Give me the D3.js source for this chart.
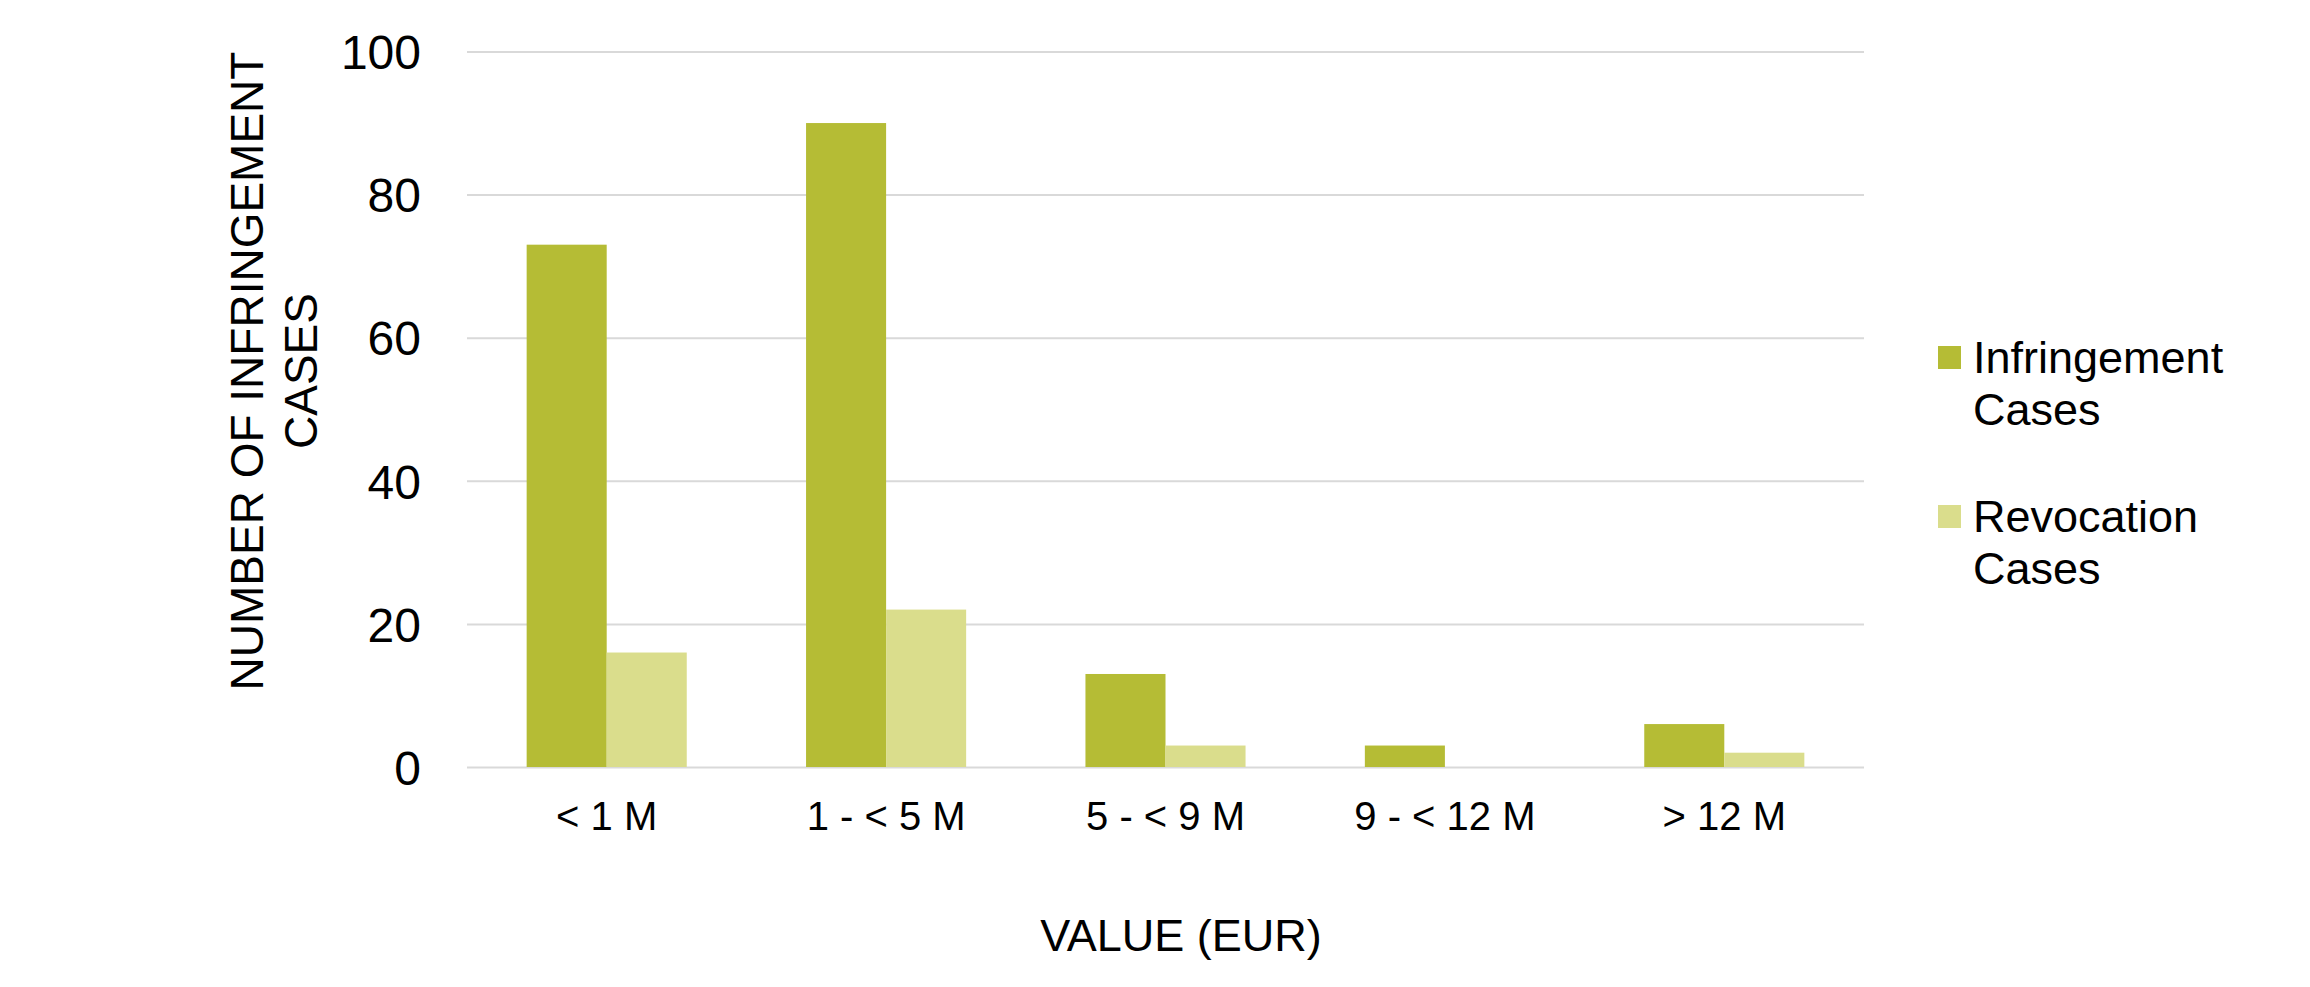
<!DOCTYPE html>
<html>
<head>
<meta charset="utf-8">
<script src="https://cdn.jsdelivr.net/npm/d3@7"></script>
<style>
  html, body { margin: 0; padding: 0; background: #fff; }
  svg { display: block; font-family: "Liberation Sans", Arial, sans-serif; }
</style>
</head>
<body>
<svg id="chart" width="2310" height="987"></svg>
<script>
const categories = ["< 1 M", "1 - < 5 M", "5 - < 9 M", "9 - < 12 M", "> 12 M"];
const seriesNames = ["Infringement Cases", "Revocation Cases"];
const legendLines = [["Infringement", "Cases"], ["Revocation", "Cases"]];
const infringement = [73, 90, 13, 3, 6];
const revocation = [16, 22, 3, 0, 2];
const yTicks = [0, 20, 40, 60, 80, 100];
const colors = ["#b5bc35", "#dadd8c"];
const yTitleLines = ["NUMBER OF INFRINGEMENT", "CASES"];
const xTitle = "VALUE (EUR)";

(function () {
const seriesValues = [infringement, revocation];
const plotLeft = 467, plotRight = 1864, plotTop = 51.5, plotBottom = 767;

const svg = d3.select("#chart");

const y = d3.scaleLinear().domain([0, 100]).range([plotBottom, plotTop]);
const x0 = d3.scaleBand().domain(categories).range([plotLeft, plotRight])
  .paddingInner(0.427).paddingOuter(0.2135);
const x1 = d3.scaleBand().domain(seriesNames).range([0, x0.bandwidth()]).padding(0);

// Y axis with gridlines
const yAxis = svg.append("g")
  .attr("transform", `translate(${plotLeft},0)`)
  .call(d3.axisLeft(y).tickValues(yTicks).tickSize(-(plotRight - plotLeft)).tickPadding(46).tickFormat(d3.format("d")));
yAxis.select(".domain").remove();
yAxis.selectAll(".tick line").attr("stroke", "#d9d9d9").attr("stroke-width", 2);
yAxis.selectAll(".tick text")
  .attr("font-size", 48).attr("fill", "#000").attr("dy", "0.36em")
  .style("font-family", '"Liberation Sans", Arial, sans-serif');

// Bars
const groups = svg.append("g").selectAll("g")
  .data(categories)
  .join("g")
  .attr("transform", d => `translate(${x0(d)},0)`);
groups.selectAll("rect")
  .data((c, i) => seriesNames.map((s, j) => ({ s, v: seriesValues[j][i], j })))
  .join("rect")
  .attr("x", d => x1(d.s))
  .attr("width", x1.bandwidth())
  .attr("y", d => y(d.v))
  .attr("height", d => y(0) - y(d.v))
  .attr("fill", d => colors[d.j]);

// X axis labels
const xAxis = svg.append("g")
  .attr("transform", `translate(0,${plotBottom})`)
  .call(d3.axisBottom(x0).tickSize(0).tickPadding(35));
xAxis.select(".domain").remove();
xAxis.selectAll(".tick text")
  .attr("font-size", 40).attr("fill", "#000")
  .style("font-family", '"Liberation Sans", Arial, sans-serif');

// Y title
const yt = svg.append("text")
  .attr("transform", "translate(263,371) rotate(-90)")
  .attr("text-anchor", "middle")
  .attr("font-size", 46)
  .attr("fill", "#000");
yTitleLines.forEach((t, i) => {
  yt.append("tspan").attr("x", 0).attr("y", i * 54).text(t);
});

// X title
svg.append("text")
  .attr("x", 1181).attr("y", 951)
  .attr("text-anchor", "middle")
  .attr("font-size", 45)
  .attr("fill", "#000")
  .text(xTitle);

// Legend
const legendTops = [346, 505];
const lg = svg.append("g");
seriesNames.forEach((s, i) => {
  lg.append("rect")
    .attr("x", 1938).attr("y", legendTops[i])
    .attr("width", 23).attr("height", 23)
    .attr("fill", colors[i]);
  const t = lg.append("text")
    .attr("font-size", 45).attr("fill", "#000");
  legendLines[i].forEach((line, k) => {
    t.append("tspan").attr("x", 1973).attr("y", legendTops[i] + 27 + k * 52).text(line);
  });
});
})();
</script>
</body>
</html>
